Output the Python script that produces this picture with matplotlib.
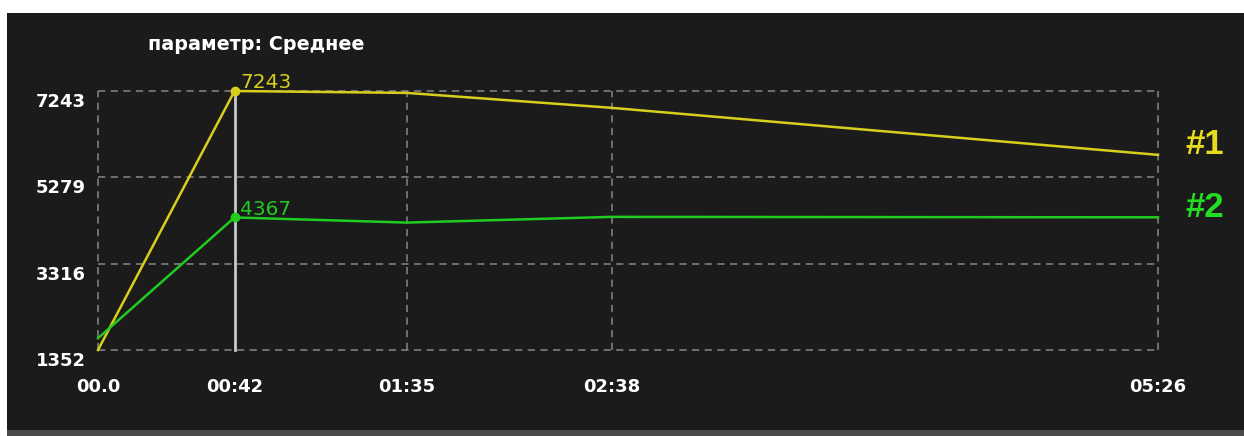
import matplotlib
matplotlib.use("Agg")
import matplotlib.pyplot as plt
import matplotlib.transforms as mtransforms
from matplotlib.patches import Rectangle

plt.rcParams['font.family'] = ['DejaVu Sans']

# time in seconds
times = [0, 42, 95, 158, 326]
tick_labels = ['00.0', '00:42', '01:35', '02:38', '05:26']
series1 = [1352, 7243, 7200, 6860, 5790]
series2 = [1620, 4367, 4250, 4380, 4370]
yticks = [1352, 3316, 5279, 7243]
cursor_t = 42

bg = '#1b1b1b'
yellow = '#d8cf1c'
green = '#1fcc1f'

fig = plt.figure(figsize=(12.44, 4.36), dpi=100, facecolor='white')
# dark panel and bottom strip
fig.patches.append(Rectangle((7 / 1244, 0), 1, 1 - 13 / 436, transform=fig.transFigure,
                             facecolor=bg, edgecolor='none', zorder=-2))
fig.patches.append(Rectangle((7 / 1244, 0), 1, 6 / 436, transform=fig.transFigure,
                             facecolor='#4a4a4a', edgecolor='none', zorder=-1))

ax = fig.add_axes([98 / 1244, 1 - 350 / 436, (1158 - 98) / 1244, (350 - 91) / 436])
ax.set_facecolor('none')
ax.set_xlim(0, 326)
ax.set_ylim(1352, 7243)
for s in ax.spines.values():
    s.set_visible(False)

# grid
for y in yticks:
    ax.axhline(y, color='#767676', lw=1.3, ls=(0, (4, 3)), zorder=1, clip_on=False)
for t in times:
    if t != cursor_t:
        ax.axvline(t, color='#767676', lw=1.3, ls=(0, (4, 3)), zorder=1, clip_on=False)
ax.axvline(cursor_t, color='#c8c8c8', lw=2, zorder=2, clip_on=False)

ax.plot(times, series1, color=yellow, lw=1.8, zorder=3, clip_on=False)
ax.plot(times, series2, color=green, lw=1.8, zorder=3, clip_on=False)

i = times.index(cursor_t)
ax.plot([cursor_t], [series1[i]], 'o', color=yellow, ms=6, zorder=4, clip_on=False)
ax.plot([cursor_t], [series2[i]], 'o', color=green, ms=6, zorder=4, clip_on=False)
ax.annotate(str(series1[i]), (cursor_t, series1[i]), xytext=(4, -1), textcoords='offset points',
            color=yellow, fontsize=14.5, va='bottom', ha='left')
ax.annotate(str(series2[i]), (cursor_t, series2[i]), xytext=(4, -1), textcoords='offset points',
            color=green, fontsize=14.5, va='bottom', ha='left')

ax.set_xticks(times)
ax.set_xticklabels(tick_labels)
ax.set_yticks(yticks)
ax.set_yticklabels([str(v) for v in yticks])
ax.tick_params(length=0, colors='white', labelsize=13)
ax.tick_params(axis='x', pad=20)
ax.tick_params(axis='y', pad=9)
for lab in ax.get_xticklabels() + ax.get_yticklabels():
    lab.set_fontweight('bold')
off = mtransforms.ScaledTranslation(0, -9 / 100, fig.dpi_scale_trans)
for lab in ax.get_yticklabels():
    lab.set_transform(lab.get_transform() + off)

fig.text(148 / 1244, 1 - 44 / 436, 'параметр: Среднее', color='white', fontsize=13.8,
         fontweight='bold', va='center', ha='left')
fig.text(1185 / 1244, 1 - 145 / 436, '#1', color='#e6dc1e', fontsize=25,
         fontweight='bold', va='center', ha='left', family='Liberation Sans')
fig.text(1185 / 1244, 1 - 207 / 436, '#2', color='#22dd22', fontsize=25,
         fontweight='bold', va='center', ha='left', family='Liberation Sans')

fig.savefig('out.png', dpi=100, facecolor='white')
